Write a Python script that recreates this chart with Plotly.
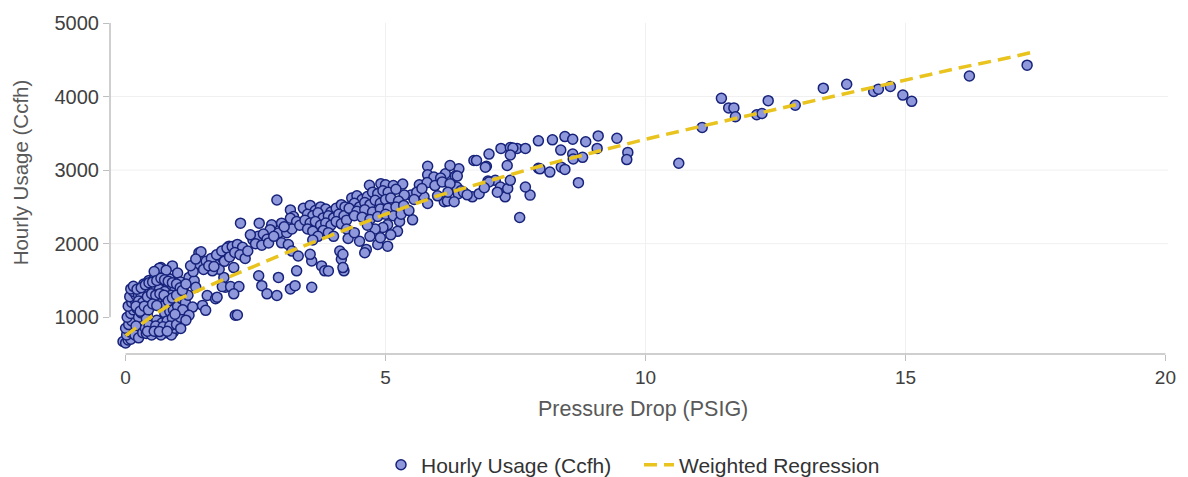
import plotly.graph_objects as go

# Hourly usage readings (Ccfh) against pressure drop (PSIG), grouped by range
psig_a = [-0.05, 0.0, 0.05, 0.1, 0.02, 0.08, 0.0, 0.06, 0.12, 0.03,
          0.1, 0.15, 0.05, 0.12, 0.18, 0.08, 0.2, 0.15, 0.1, 0.25,
          0.22, 0.28, 0.3, 0.25, 0.3, 0.2, 0.18, 0.25]
ccfh_a = [670, 650, 690, 700, 760, 800, 850, 900, 950, 1000,
          1050, 1100, 1150, 1200, 1230, 1280, 1300, 1350, 1385, 1000,
          1120, 1180, 1250, 1300, 1060, 880, 760, 720]

psig_b = [0.33, 0.40, 0.48, 0.55, 0.62, 0.70, 0.78, 0.85, 0.92, 0.45,
          0.6, 0.75, 0.5, 0.68, 0.88, 0.38, 0.95]
ccfh_b = [790, 780, 790, 785, 790, 780, 790, 785, 800, 830,
          840, 830, 760, 760, 760, 850, 850]

psig_c = [0.35, 0.45, 0.55, 0.62, 0.7, 0.78, 0.85, 0.4, 0.5, 0.6,
          0.72, 0.82, 0.9, 0.95, 0.35, 0.45, 0.55, 0.65, 0.75, 0.3,
          0.4, 0.38, 0.48, 0.68, 0.78, 0.88, 0.95, 0.85, 0.72, 0.35,
          0.42, 0.75, 0.85, 0.92, 1.0, 0.4, 0.5, 0.6, 0.7, 0.8,
          0.9, 0.45, 0.58, 0.72, 0.85, 0.98, 1.05, 1.08, 1.02, 0.68,
          0.9, 0.65, 0.78, 0.55, 1.0, 1.06]
ccfh_c = [1450, 1500, 1520, 1560, 1600, 1560, 1520, 1400, 1420, 1450,
          1480, 1450, 1420, 1380, 1350, 1330, 1360, 1380, 1350, 1300,
          1250, 1180, 1150, 1280, 1250, 1300, 1230, 1180, 1150, 1100,
          1050, 1060, 1080, 1100, 1150, 980, 940, 960, 920, 950,
          990, 890, 880, 870, 880, 900, 1000, 1250, 1320, 1675,
          1698, 1667, 1640, 1620, 1600, 1480]

psig_k = [0.15, 0.22, 0.3, 0.38, 0.45, 0.52, 0.6, 0.68, 0.75, 0.82,
          0.9, 0.98, 1.05, 1.12, 0.25, 0.33, 0.42, 0.5, 0.58, 0.66,
          0.74, 0.82, 0.9, 0.98, 0.2, 0.28, 0.36, 0.44, 0.52, 0.6,
          0.42, 0.55, 0.65, 0.8, 1.15, 1.2, 1.1, 0.95]
ccfh_k = [1420, 1380, 1400, 1440, 1470, 1480, 1500, 1530, 1510, 1490,
          1470, 1450, 1400, 1340, 1220, 1200, 1280, 1320, 1300, 1320,
          1300, 1220, 1260, 1300, 1150, 1080, 1150, 1100, 1180, 1160,
          810, 810, 805, 810, 1200, 1300, 1100, 1040]

psig_d = [1.09, 1.22, 1.32, 1.16, 1.35, 1.29, 1.48, 1.54, 1.22, 1.16,
          1.06, 1.57, 1.73, 1.92, 1.89, 2.11, 2.08, 1.76, 1.86, 1.95,
          1.99, 1.80, 1.67, 1.41, 1.45, 1.76, 1.86, 2.02, 2.18, 2.08,
          2.15, 1.41, 1.55, 1.65, 1.75, 1.85, 1.95, 2.05, 2.15, 2.25,
          1.5, 1.6, 1.7, 1.9, 2.0, 2.1, 2.2, 2.3, 2.35, 1.3,
          1.25, 1.35, 2.21]
ccfh_d = [1362, 1541, 1496, 1452, 1407, 1138, 1161, 1094, 1027, 960,
          848, 1295, 1251, 1407, 1541, 1027, 1675, 1742, 1809, 1855,
          1966, 1653, 1631, 1876, 1890, 1273, 1416, 1416, 1416, 1318,
          1030, 1725, 1760, 1800, 1850, 1900, 1940, 1960, 1990, 1950,
          1650, 1700, 1690, 1760, 1820, 1880, 1850, 1800, 1900, 1620,
          1700, 1790, 2279]

psig_e = [2.57, 2.81, 2.78, 2.91, 3.17, 3.23, 3.17, 3.29, 3.00, 2.94,
          3.00, 2.45, 2.55, 2.65, 2.72, 2.5, 2.62, 2.75, 2.4, 3.13,
          3.20, 3.32, 3.58, 3.77, 3.83, 3.55, 3.29, 2.94, 2.56, 2.62,
          2.72, 2.91, 3.17, 3.26, 3.58, 3.1, 3.2, 3.35, 3.05, 2.85]
ccfh_e = [2279, 2257, 2190, 2593, 2459, 2369, 2346, 2302, 2279, 2145,
          2011, 2050, 2100, 2130, 2060, 2000, 1980, 2010, 2120, 1989,
          1899, 1832, 1765, 1698, 1631, 1855, 1631, 1541, 1564, 1429,
          1318, 1295, 1385, 1429, 1407, 2150, 2200, 2250, 2230, 2100]

psig_f = [3.42, 3.55, 3.65, 3.75, 3.85, 3.95, 4.05, 4.15, 4.22, 3.5,
          3.6, 3.7, 3.8, 3.9, 4.0, 4.1, 4.2, 3.45, 3.55, 3.65,
          3.75, 3.85, 3.95, 4.05, 4.15, 4.25, 3.5, 3.6, 3.8, 3.9,
          4.12, 4.20, 4.15, 4.18, 4.18, 3.90, 3.7, 3.6, 4.0, 4.25,
          4.28]
ccfh_f = [2480, 2520, 2450, 2500, 2470, 2430, 2480, 2530, 2500, 2400,
          2380, 2420, 2350, 2380, 2350, 2400, 2380, 2320, 2280, 2300,
          2250, 2280, 2250, 2300, 2270, 2320, 2200, 2170, 2180, 2150,
          1899, 1631, 1788, 1855, 1675, 1630, 2100, 2050, 2100, 2200,
          2070]

psig_g = [4.69, 4.91, 5.0, 5.15, 5.33, 5.49, 5.36, 4.35, 4.45, 4.55,
          4.65, 4.75, 4.85, 4.95, 5.05, 5.2, 4.4, 4.5, 4.6, 4.7,
          4.8, 4.9, 5.0, 5.1, 5.25, 4.3, 4.45, 4.6, 4.75, 4.9,
          5.05, 5.2, 5.35, 4.4, 4.55, 4.7, 4.85, 5.0, 5.15, 5.52,
          5.27, 5.23, 5.04, 4.95, 4.8, 4.65, 5.04, 4.85, 4.63, 4.60,
          4.50, 4.7, 4.9, 5.1, 4.4, 5.3, 5.45]
ccfh_g = [2794, 2816, 2800, 2790, 2810, 2660, 2660, 2620, 2650, 2600,
          2640, 2700, 2680, 2720, 2700, 2740, 2550, 2500, 2560, 2530,
          2590, 2550, 2600, 2620, 2580, 2480, 2440, 2460, 2430, 2470,
          2480, 2500, 2520, 2380, 2360, 2330, 2370, 2400, 2380, 2324,
          2302, 2168, 2257, 2220, 2200, 2250, 1966, 1989, 1922, 1876,
          2033, 2100, 2080, 2120, 2150, 2400, 2450]

psig_h = [5.81, 6.41, 6.15, 6.34, 5.81, 5.93, 6.06, 5.65, 5.8, 5.95,
          6.09, 6.37, 6.45, 6.4, 6.5, 6.67, 6.57, 5.74, 5.81, 6.13,
          6.19, 6.32, 6.24, 6.38, 6.24, 6.70, 5.6, 5.7, 6.0, 6.2,
          5.55]
ccfh_h = [3053, 3017, 2950, 2919, 2936, 2906, 2892, 2800, 2830, 2790,
          2840, 2770, 2720, 2680, 2700, 2637, 2664, 2637, 2547, 2570,
          2579, 2570, 3063, 2919, 2816, 3130, 2700, 2750, 2650, 2700,
          2600]

psig_i = [6.75, 6.99, 6.94, 6.92, 7.22, 7.40, 7.53, 7.69, 7.45, 7.40,
          7.34, 6.97, 7.11, 7.21, 7.27, 7.30, 7.15, 7.35, 7.78, 7.69,
          7.58, 7.94, 7.94, 7.97, 8.16, 8.21, 8.45, 8.60, 8.37, 8.60,
          8.61, 8.79, 8.38, 8.45, 8.85, 9.09, 9.07, 9.45, 8.71, 9.66,
          9.64, 6.99, 7.40, 6.80, 6.9]
ccfh_i = [3130, 3218, 3053, 3040, 3295, 3308, 3295, 3295, 3300, 3205,
          3063, 2852, 2861, 2771, 2682, 2637, 2700, 2750, 2660, 2771,
          2355, 3398, 3026, 3017, 2973, 3412, 3456, 3420, 3272, 3218,
          3151, 3174, 3040, 3010, 3385, 3465, 3295, 3433, 2829, 3241,
          3143, 2839, 2861, 2680, 2760]

psig_j = [10.64, 11.09, 11.46, 11.60, 11.70, 11.73, 12.14, 12.24, 12.36, 12.88,
          13.42, 13.87, 14.39, 14.48, 14.71, 14.95, 15.12, 16.23, 17.34]
ccfh_j = [3094, 3581, 3976, 3846, 3846, 3725, 3752, 3769, 3944, 3882,
          4114, 4168, 4070, 4101, 4137, 4020, 3935, 4279, 4427]

# Weighted regression fit
reg_psig = [0, 0.5, 1, 1.5, 2, 3, 4, 5, 6, 7, 8, 9, 10, 11, 12, 13, 14, 15, 16, 17, 17.4]
reg_ccfh = [750, 1010, 1240, 1400, 1550, 1850, 2130, 2400, 2650, 2860, 3060, 3240,
            3420, 3585, 3745, 3905, 4065, 4225, 4385, 4530, 4595]

x_ticks = [0, 5, 10, 15, 20]
y_ticks = [1000, 2000, 3000, 4000, 5000]
x_grid = [5, 10, 15]
y_grid = [2000, 3000, 4000]

psig = (psig_a + psig_b + psig_c + psig_k + psig_d + psig_e + psig_f
        + psig_g + psig_h + psig_i + psig_j)
ccfh = (ccfh_a + ccfh_b + ccfh_c + ccfh_k + ccfh_d + ccfh_e + ccfh_f
        + ccfh_g + ccfh_h + ccfh_i + ccfh_j)

FONT = "Liberation Sans, Arial, sans-serif"
AXIS_GREY = "#BFBFBF"
GRID_GREY = "#F0F0F0"

fig = go.Figure()
fig.add_trace(go.Scatter(
    x=psig, y=ccfh, mode="markers", name="Hourly Usage (Ccfh)",
    marker=dict(size=10, color="#8F98DA", line=dict(color="#17237A", width=1.5)),
))
fig.add_trace(go.Scatter(
    x=reg_psig, y=reg_ccfh, mode="lines", name="Weighted Regression",
    line=dict(color="#E9C31E", width=3.5, dash="13px,7px"),
))

# faint gridlines, plus offset axis lines that span only the tick range
shapes = []
for gx in x_grid:
    shapes.append(dict(type="line", xref="x", yref="paper", x0=gx, x1=gx, y0=0, y1=1,
                       layer="below", line=dict(color=GRID_GREY, width=1)))
for gy in y_grid:
    shapes.append(dict(type="line", xref="paper", yref="y", x0=0, x1=1, y0=gy, y1=gy,
                       layer="below", line=dict(color=GRID_GREY, width=1)))
shapes.append(dict(type="line", xref="x", yref="paper", x0=x_ticks[0], x1=x_ticks[-1],
                   y0=0, y1=0, line=dict(color=AXIS_GREY, width=1.5)))
shapes.append(dict(type="line", xref="paper", yref="y", x0=0, x1=0,
                   y0=y_ticks[0], y1=y_ticks[-1], line=dict(color=AXIS_GREY, width=1.5)))

fig.update_layout(
    width=1188, height=477,
    margin=dict(l=110, r=15, t=19, b=123),
    paper_bgcolor="white", plot_bgcolor="white",
    font=dict(family=FONT, color="#404040"),
    showlegend=True,
    legend=dict(orientation="h", x=0.5, xanchor="center",
                yref="container", y=0.025, yanchor="middle",
                font=dict(size=21, color="#333333"), itemwidth=30,
                entrywidth=213, entrywidthmode="pixels"),
    xaxis=dict(range=[-0.3, 20.05], tickvals=x_ticks, ticks="outside", ticklen=6,
               tickcolor=AXIS_GREY, showline=False, zeroline=False, showgrid=False,
               tickfont=dict(size=19, color="#404040")),
    yaxis=dict(range=[500, 5000], tickvals=y_ticks, ticks="outside", ticklen=6,
               tickcolor=AXIS_GREY, showline=False, zeroline=False, showgrid=False,
               tickfont=dict(size=20, color="#404040")),
    shapes=shapes,
    annotations=[
        dict(text="Pressure Drop (PSIG)", xref="paper", yref="paper", x=0.504, y=-0.167,
             xanchor="center", yanchor="middle", showarrow=False,
             font=dict(size=21.5, color="#595959")),
        dict(text="Hourly Usage (Ccfh)", xref="paper", yref="paper", x=-0.085, y=0.549,
             xanchor="center", yanchor="middle", textangle=-90, showarrow=False,
             font=dict(size=20.5, color="#595959")),
    ],
)

fig.write_html("out.html")
